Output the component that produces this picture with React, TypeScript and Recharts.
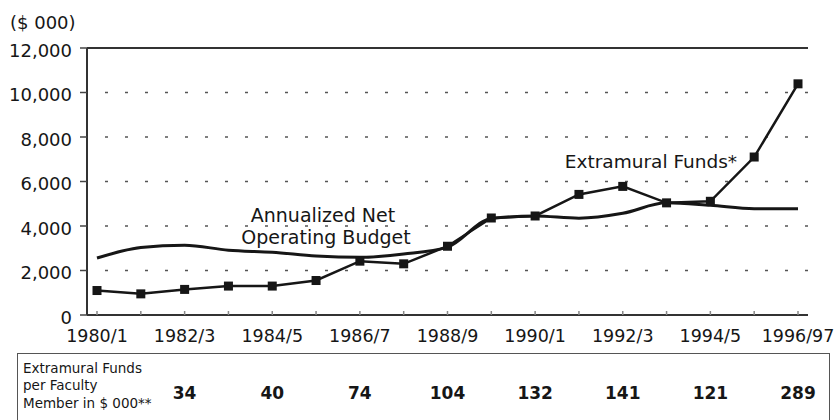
import React from 'react';
import { LineChart, Line, XAxis, YAxis, CartesianGrid, ReferenceLine } from 'recharts';

const periods = [
  '1980/1', '1981/2', '1982/3', '1983/4', '1984/5', '1985/6', '1986/7', '1987/8', '1988/9',
  '1989/90', '1990/1', '1991/2', '1992/3', '1993/4', '1994/5', '1995/6', '1996/97',
];
const extramural = [1100, 950, 1150, 1300, 1300, 1550, 2420, 2300, 3090, 4360, 4450, 5420, 5780, 5040, 5110, 7100, 10390];
const budget = [2560, 3030, 3140, 2910, 2820, 2650, 2590, 2740, 3050, 4340, 4450, 4350, 4570, 5040, 4930, 4780, 4780];
const yTicks = [0, 2000, 4000, 6000, 8000, 10000, 12000];
const perFaculty = ['34', '40', '74', '104', '132', '141', '121', '289'];
const tableLabel = ['Extramural Funds', 'per Faculty', 'Member in $ 000**'];
const unitLabel = '($ 000)';
const budgetLabel = ['Annualized Net', 'Operating Budget'];
const extramuralLabel = 'Extramural Funds*';

const data = periods.map((p, i) => ({ period: p, extramural: extramural[i], budget: budget[i] }));

const FONT = "'DejaVu Sans', sans-serif";
const INK = '#161616';

function fmt(v: number): string {
  return String(v).replace(/\B(?=(\d{3})+(?!\d))/g, ',');
}

function XTick(props: any) {
  const { x, y, payload, index } = props;
  if (index % 2 !== 0) return <g />;
  return (
    <text x={x} y={y} dy={30.5} textAnchor="middle" fontSize={17.5} fontFamily={FONT} fill={INK}>
      {payload.value}
    </text>
  );
}

function TableTick(props: any) {
  const { x, y, index } = props;
  if (index % 2 !== 0 || index === 0) return <g />;
  const v = perFaculty[index / 2 - 1];
  return (
    <text x={x} y={y} dy={54} textAnchor="middle" fontSize={17} fontWeight="bold" fontFamily={FONT} fill={INK}>
      {v}
    </text>
  );
}

function YTick(props: any) {
  const { x, y, payload } = props;
  return (
    <text x={x} y={y} dy={8.5} textAnchor="end" fontSize={18} fontFamily={FONT} fill={INK}>
      {fmt(payload.value)}
    </text>
  );
}

function SquareDot(props: any) {
  const { cx, cy, index } = props;
  if (cx == null || cy == null) return <g key={`e${index}`} />;
  return <rect key={`d${index}`} x={cx - 4.5} y={cy - 4.5} width={9} height={9} fill={INK} />;
}

export default function App() {
  return (
    <div style={{ position: 'absolute', left: 0, top: 0, width: 834, height: 420, background: '#fff', overflow: 'hidden', fontFamily: FONT }}>
      <div
        style={{
          position: 'absolute', left: 17, top: 353, width: 813, height: 90,
          border: '1.5px solid #555', boxSizing: 'border-box',
        }}
      />
      <div style={{ position: 'absolute', left: 23, top: 359.5, fontSize: 13.5, lineHeight: '17.5px', color: INK, fontFamily: FONT }}>
        {tableLabel.map((t) => (
          <div key={t}>{t}</div>
        ))}
      </div>
      <div style={{ position: 'absolute', left: 0, top: 0 }}>
        <LineChart width={834} height={420} data={data} margin={{ top: 48, right: 26, bottom: 0, left: 0 }}>
          <CartesianGrid
            horizontal
            vertical={false}
            stroke="#555"
            strokeWidth={1.5}
            strokeDasharray="3 17"
            strokeDashoffset={2}
          />
          <XAxis
            dataKey="period"
            xAxisId={0}
            interval={0}
            padding={{ left: 10, right: 10 }}
            height={30}
            tickSize={-4}
            tickMargin={0}
            tick={<XTick />}
            axisLine={{ stroke: '#333', strokeWidth: 2 }}
            tickLine={{ stroke: '#888', strokeWidth: 1.5 }}
          />
          <XAxis
            dataKey="period"
            xAxisId="t"
            interval={0}
            padding={{ left: 10, right: 10 }}
            height={75}
            tickSize={0}
            tickMargin={0}
            tick={<TableTick />}
            axisLine={false}
            tickLine={false}
          />
          <YAxis
            domain={[0, 12000]}
            ticks={yTicks}
            interval={0}
            width={87}
            tickSize={7}
            tickMargin={8}
            tick={<YTick />}
            axisLine={{ stroke: '#333', strokeWidth: 2 }}
            tickLine={{ stroke: '#444', strokeWidth: 1.5 }}
          />
          <YAxis
            yAxisId="r"
            orientation="right"
            domain={[0, 12000]}
            width={0}
            tick={false}
            tickLine={false}
            axisLine={{ stroke: '#555', strokeWidth: 1.5 }}
          />
          <ReferenceLine y={12000} stroke="#333" strokeWidth={2} />
          <Line dataKey="budget" type="monotone" stroke={INK} strokeWidth={3} dot={false} isAnimationActive={false} />
          <Line dataKey="extramural" type="linear" stroke={INK} strokeWidth={2.5} dot={SquareDot} isAnimationActive={false} />
        </LineChart>
      </div>
      <svg width={834} height={420} style={{ position: 'absolute', left: 0, top: 0, pointerEvents: 'none' }}>
        <text x={10} y={29} fontSize={18} fontFamily={FONT} fill={INK}>{unitLabel}</text>
        <text x={323} y={221.5} textAnchor="middle" fontSize={19} fontFamily={FONT} fill={INK}>{budgetLabel[0]}</text>
        <text x={326} y={243.5} textAnchor="middle" fontSize={19} fontFamily={FONT} fill={INK}>{budgetLabel[1]}</text>
        <text x={651} y={168} textAnchor="middle" fontSize={18.5} fontFamily={FONT} fill={INK}>{extramuralLabel}</text>
      </svg>
    </div>
  );
}
